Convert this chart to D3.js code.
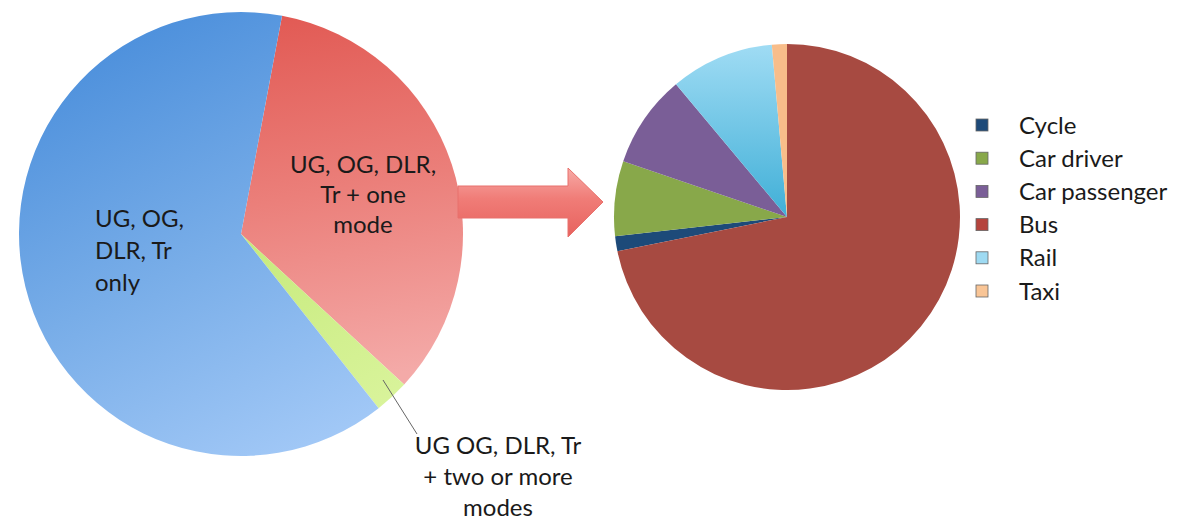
<!DOCTYPE html>
<html>
<head>
<meta charset="utf-8">
<script src="https://cdn.jsdelivr.net/npm/d3@7/dist/d3.min.js"></script>
<style>
  html, body { margin: 0; padding: 0; background: #ffffff; }
  svg { display: block; font-family: Lato, "Open Sans", sans-serif; }
</style>
</head>
<body>
<svg id="chart" width="1180" height="522"></svg>
<script>
// ---- Data ----
const tripCategories = ["UG, OG, DLR, Tr + one mode", "UG OG, DLR, Tr + two or more modes", "UG, OG, DLR, Tr only"];
const tripValues = [33.9, 2.5, 63.6];
const modeCategories = ["Cycle", "Car driver", "Car passenger", "Bus", "Rail", "Taxi"];
const modeValues = [1.4, 7.0, 8.7, 71.9, 9.7, 1.4];
const modeDrawOrder = ["Bus", "Cycle", "Car driver", "Car passenger", "Rail", "Taxi"];

const svg = d3.select("#chart");
const defs = svg.append("defs");

function vgrad(id, stops, x1, y1, x2, y2) {
  const g = defs.append("linearGradient").attr("id", id)
    .attr("gradientUnits", "userSpaceOnUse")
    .attr("x1", x1).attr("y1", y1).attr("x2", x2).attr("y2", y2);
  stops.forEach(s => g.append("stop").attr("offset", s[0]).attr("stop-color", s[1]));
}

// ---- Left pie (gradient coords local to pie centre) ----
const L = { cx: 241, cy: 234, r: 222 };
vgrad("gBlue", [[0, "#4a8edb"], [0.5, "#78ade8"], [1, "#a6cbf8"]], -L.r * 0.5, -L.r, L.r * 0.5, L.r);
vgrad("gRed", [[0, "#e15852"], [0.5, "#eb7f7a"], [1, "#f4aaa8"]], 0, -L.r, L.r * 0.3, L.r * 0.7);
vgrad("gGreen", [[0, "#c6ea7c"], [1, "#dcf5a0"]], 0, 0, L.r * 0.6, L.r);
const tripFill = ["url(#gRed)", "url(#gGreen)", "url(#gBlue)"];

const startL = 10.65 * Math.PI / 180;
const pieL = d3.pie().sort(null).startAngle(startL).endAngle(startL + 2 * Math.PI);
const arcL = d3.arc().innerRadius(0).outerRadius(L.r);
const gL = svg.append("g").attr("transform", `translate(${L.cx},${L.cy})`);
gL.selectAll("path").data(pieL(tripValues)).join("path")
  .attr("d", arcL)
  .attr("fill", (d, i) => tripFill[i]);

// ---- Arrow ----
const arrow = svg.append("g");
vgrad("gArrow", [[0, "#f7aaa6"], [0.45, "#f07c77"], [1, "#e7625e"]], 0, 168, 0, 237);
arrow.append("path")
  .attr("d", "M458,186 L568,186 L568,168 L603,202 L568,237 L568,218 L458,218 Z")
  .attr("fill", "url(#gArrow)")
  .attr("stroke", "#e8716c").attr("stroke-width", 1);

// ---- Right pie ----
const R = { cx: 787, cy: 217, r: 173 };
vgrad("gRail", [[0, "#a0dcf4"], [1, "#40afd7"]], 0, -R.r, 0, 0);
const modeColor = {
  "Cycle": "#1d4a79",
  "Car driver": "#88a84a",
  "Car passenger": "#7a5e97",
  "Bus": "#a74a41",
  "Rail": "url(#gRail)",
  "Taxi": "#f8bd8a"
};
const legendColor = {
  "Cycle": "#1d4a79", "Car driver": "#88a84a", "Car passenger": "#7a5e97",
  "Bus": "#b5443d", "Rail": "#9edaf2", "Taxi": "#f9c596"
};
const modeData = modeCategories.map((c, i) => ({ cat: c, value: modeValues[i] }));
const pieR = d3.pie().value(d => d.value)
  .sort((a, b) => modeDrawOrder.indexOf(a.cat) - modeDrawOrder.indexOf(b.cat));
const arcR = d3.arc().innerRadius(0).outerRadius(R.r);
const gR = svg.append("g").attr("transform", `translate(${R.cx},${R.cy})`);
gR.selectAll("path").data(pieR(modeData)).join("path")
  .attr("d", arcR)
  .attr("fill", d => modeColor[d.data.cat]);

// ---- Legend ----
const legend = svg.append("g").attr("transform", "translate(976,125)");
const li = legend.selectAll("g").data(modeCategories).join("g")
  .attr("transform", (d, i) => `translate(0,${i * 33.2})`);
li.append("rect").attr("x", 0).attr("y", -6).attr("width", 12).attr("height", 12)
  .attr("fill", d => legendColor[d])
  .attr("stroke", "#666").attr("stroke-width", 0.8);
li.append("text").attr("x", 43).attr("y", 0).attr("dy", "0.36em")
  .attr("font-size", 24).attr("fill", "#1a1a1a").text(d => d);

// ---- Left pie labels ----
function multiline(x, y, lines, anchor, lh) {
  const t = svg.append("text").attr("x", x).attr("y", y)
    .attr("text-anchor", anchor).attr("font-size", 24).attr("fill", "#1a1a1a");
  lines.forEach((l, i) => t.append("tspan").attr("x", x).attr("y", y + i * lh).attr("dy", "0.36em").text(l));
}
multiline(363, 164, ["UG, OG, DLR,", "Tr + one", "mode"], "middle", 30);
multiline(95, 218, ["UG, OG,", "DLR, Tr", "only"], "start", 32);
multiline(498, 445, ["UG OG, DLR, Tr", "+ two or more", "modes"], "middle", 31);

// leader line
svg.append("line").attr("x1", 383).attr("y1", 380).attr("x2", 417).attr("y2", 434)
  .attr("stroke", "#666").attr("stroke-width", 1);
</script>
</body>
</html>
